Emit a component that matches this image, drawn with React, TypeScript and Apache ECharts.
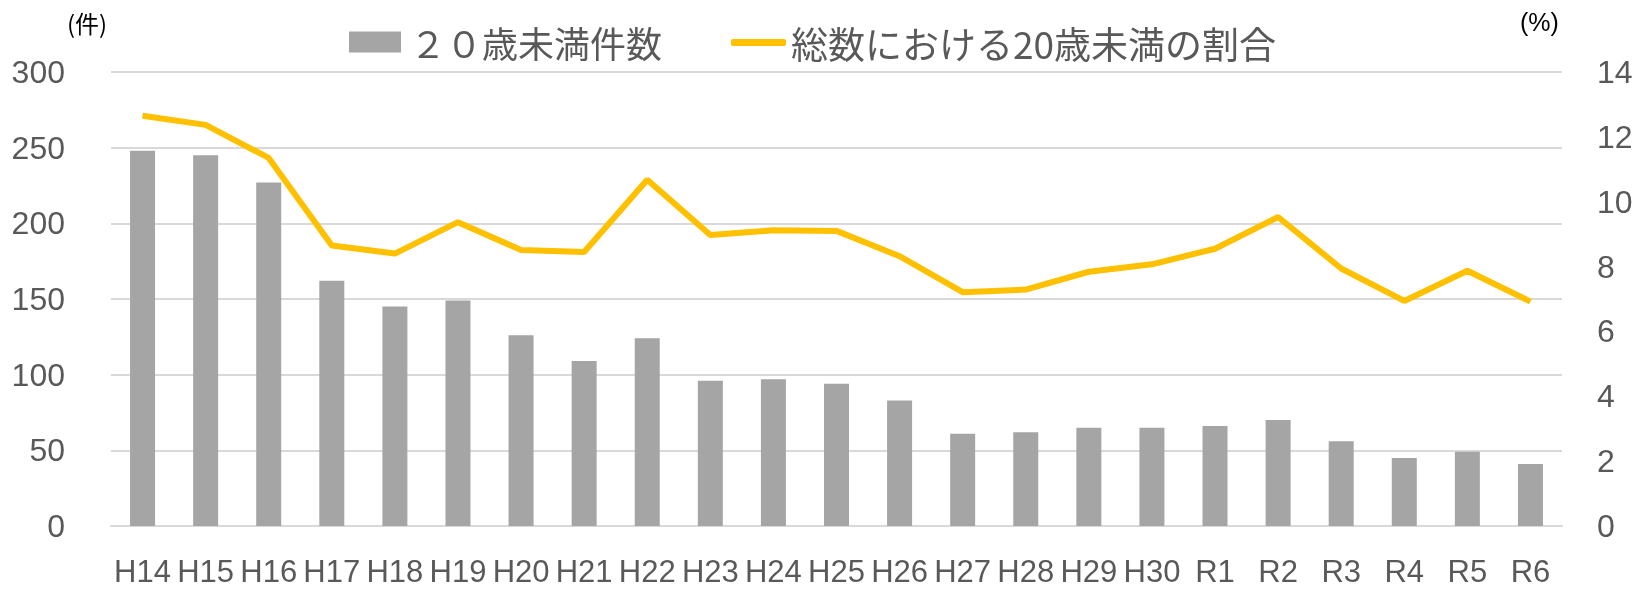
import React, { useEffect, useRef } from "react";
import * as echarts from "echarts";

const categories = ["H14","H15","H16","H17","H18","H19","H20","H21","H22","H23","H24","H25","H26","H27","H28","H29","H30","R1","R2","R3","R4","R5","R6"];
const under20Counts = [248,245,227,162,145,149,126,109,124,96,97,94,83,61,62,65,65,66,70,56,45,49,41];
const under20Ratio = [12.65,12.37,11.35,8.65,8.4,9.37,8.51,8.45,10.68,8.97,9.12,9.1,8.32,7.21,7.29,7.84,8.07,8.55,9.53,7.94,6.94,7.87,6.92];

const barName = "２０歳未満件数";
const lineName = "総数における20歳未満の割合";

export default function App() {
  const ref = useRef<HTMLDivElement>(null);
  useEffect(() => {
    if (!ref.current) return;
    const chart = echarts.init(ref.current, null, { renderer: "svg" });
    const labelFont = { fontFamily: "'Liberation Sans', Arial, sans-serif", fontSize: 32, color: "#595959" };
    chart.setOption({
      animation: false,
      grid: { left: 111, right: 75, top: 72, bottom: 64, containLabel: false },
      legend: [
        {
          data: [barName],
          left: 349,
          top: 24,
          padding: 0,
          itemWidth: 52,
          itemHeight: 21,
          icon: "rect",
          textStyle: { fontFamily: "'Noto Sans CJK JP', sans-serif", fontSize: 36, color: "#595959", padding: [0, 0, 0, 4] },
        },
        {
          data: [{ name: lineName, icon: "roundRect" }],
          left: 731,
          top: 24,
          padding: 0,
          itemWidth: 55,
          itemHeight: 7,
          textStyle: { fontFamily: "'Noto Sans CJK JP', sans-serif", fontSize: 37, color: "#595959", padding: [0, 0, 0, 0] },
        },
      ],
      xAxis: {
        type: "category",
        data: categories,
        boundaryGap: true,
        axisLine: { show: true, lineStyle: { color: "#d9d9d9", width: 2 } },
        axisTick: { show: false },
        axisLabel: { ...labelFont, fontSize: 31, lineHeight: 26, margin: 32, interval: 0 },
      },
      yAxis: [
        {
          type: "value",
          min: 0,
          max: 300,
          interval: 50,
          axisLine: { show: false },
          axisTick: { show: false },
          splitLine: { lineStyle: { color: "#d9d9d9", width: 2 } },
          axisLabel: { ...labelFont, margin: 46 },
        },
        {
          type: "value",
          min: 0,
          max: 14,
          interval: 2,
          axisLine: { show: false },
          axisTick: { show: false },
          splitLine: { show: false },
          axisLabel: { ...labelFont, margin: 35 },
        },
      ],
      graphic: [
        {
          type: "text",
          x: 67,
          y: 22,
          style: { text: "(件)", fontFamily: "'Noto Sans CJK JP', sans-serif", fontSize: 24, fill: "#000000", verticalAlign: "middle", align: "left" },
        },
        {
          type: "text",
          x: 1520,
          y: 22,
          style: { text: "(%)", fontFamily: "'Liberation Sans', Arial, sans-serif", fontSize: 25, fill: "#000000", verticalAlign: "middle", align: "left" },
        },
      ],
      series: [
        {
          name: barName,
          type: "bar",
          data: under20Counts,
          barWidth: 25,
          itemStyle: { color: "#a5a5a5" },
          yAxisIndex: 0,
        },
        {
          name: lineName,
          type: "line",
          data: under20Ratio,
          yAxisIndex: 1,
          symbol: "none",
          showSymbol: false,
          lineStyle: { color: "#ffc000", width: 6 },
          itemStyle: { color: "#ffc000" },
        },
      ],
    });
    return () => chart.dispose();
  }, []);
  return <div ref={ref} style={{ position: "fixed", left: 0, top: 0, width: 1637, height: 590 }} />;
}
